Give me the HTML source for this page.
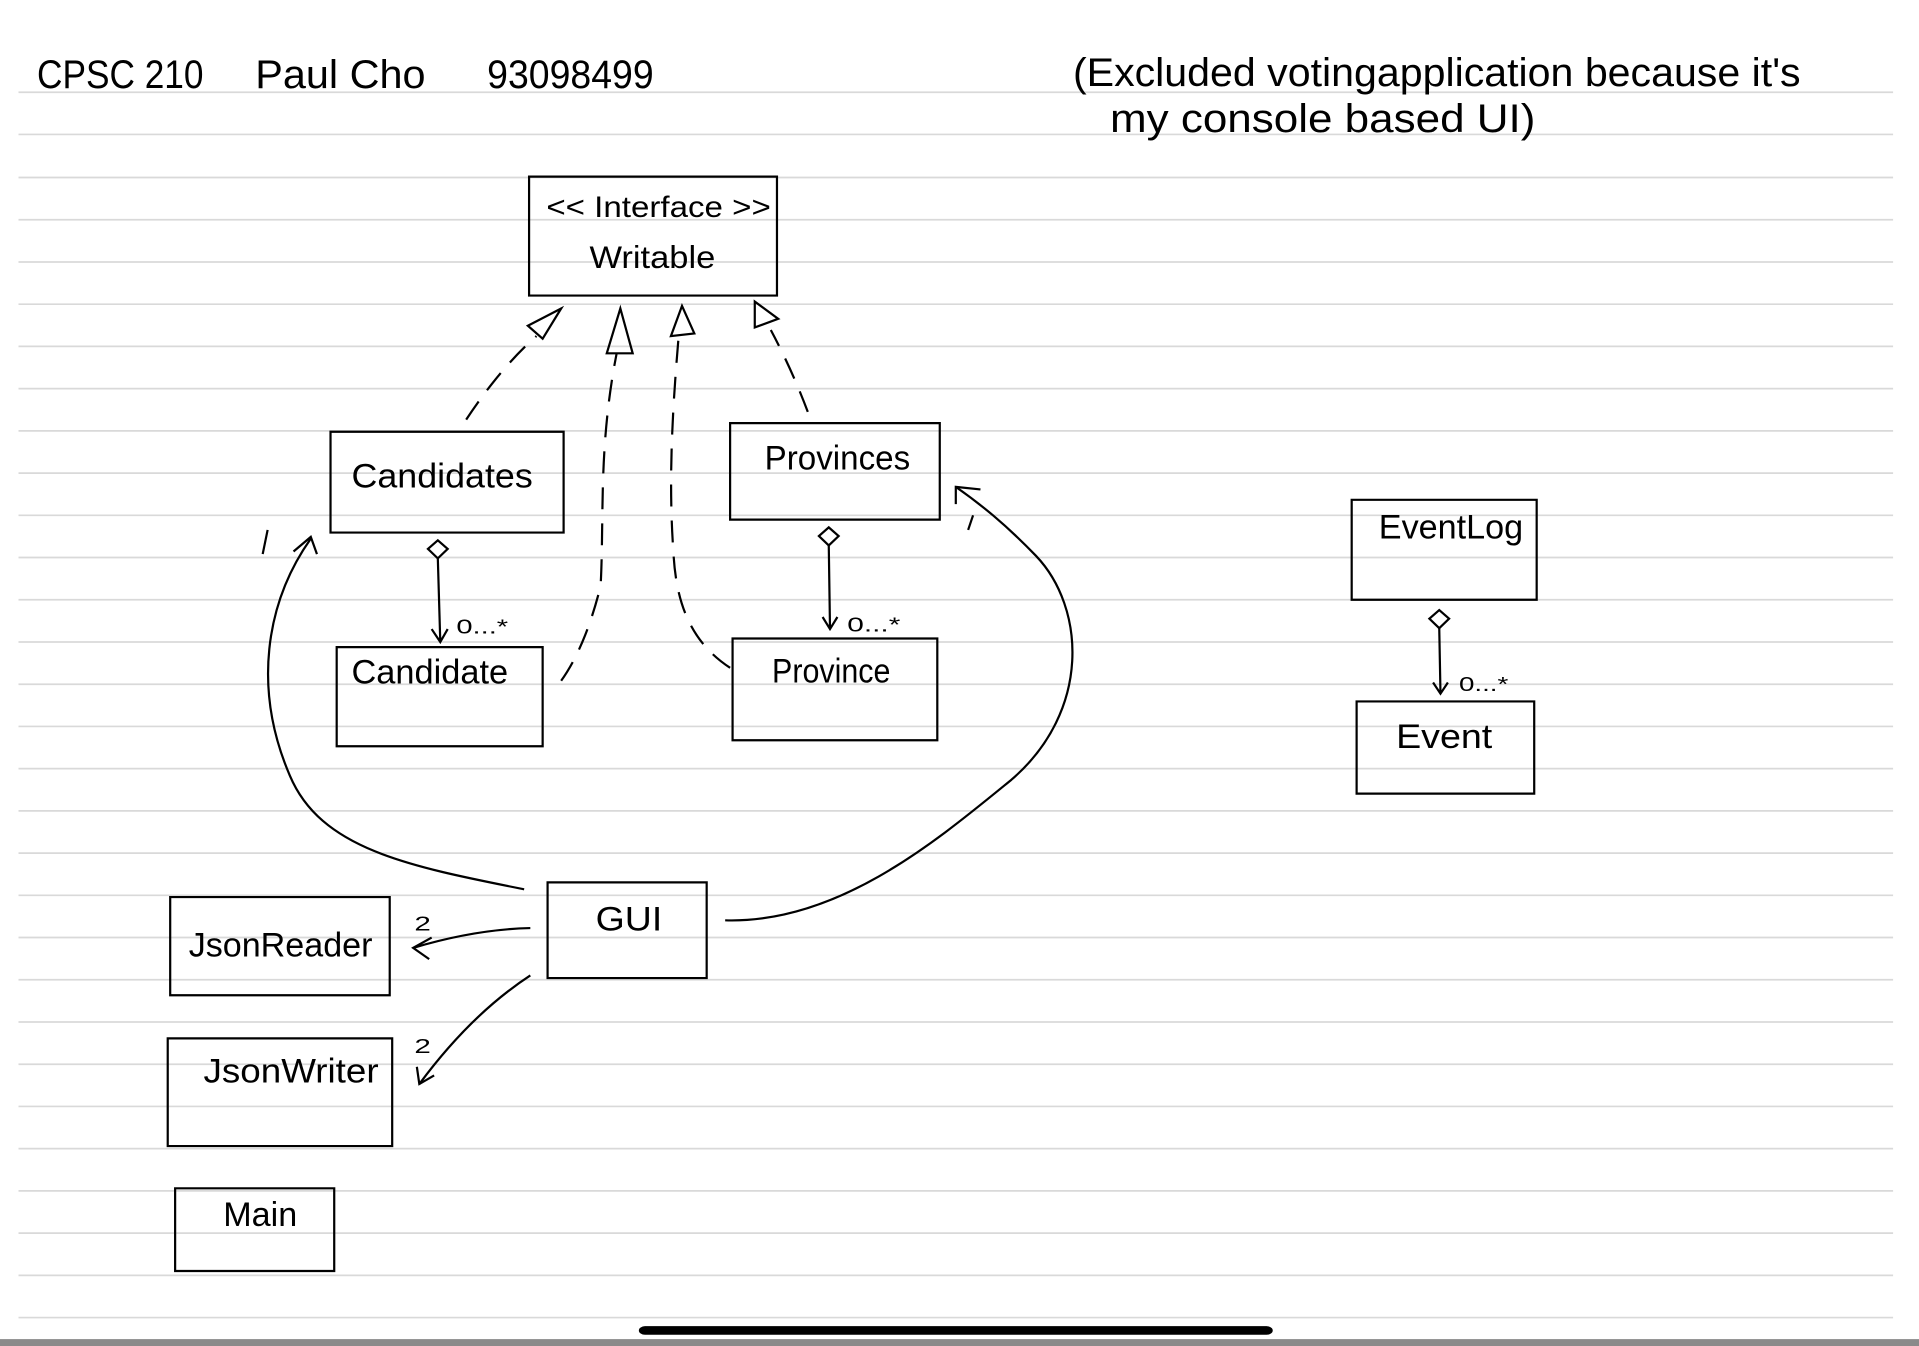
<!DOCTYPE html>
<html><head><meta charset="utf-8"><style>
html,body{margin:0;padding:0;background:#fff;}
svg{display:block;}
text{font-family:"Liberation Sans",sans-serif;fill:#000;}
</style></head><body>
<svg width="1919" height="1346" viewBox="0 0 1556 1562" preserveAspectRatio="none" xmlns="http://www.w3.org/2000/svg">
<rect width="1556" height="1562" fill="#fff"/>
<g stroke="#d9d9d9" stroke-width="2" vector-effect="non-scaling-stroke">
<line x1="15" x2="1535" y1="107" y2="107"/><line x1="15" x2="1535" y1="156" y2="156"/><line x1="15" x2="1535" y1="206" y2="206"/><line x1="15" x2="1535" y1="255" y2="255"/><line x1="15" x2="1535" y1="304" y2="304"/><line x1="15" x2="1535" y1="353" y2="353"/><line x1="15" x2="1535" y1="402" y2="402"/><line x1="15" x2="1535" y1="451" y2="451"/><line x1="15" x2="1535" y1="500" y2="500"/><line x1="15" x2="1535" y1="549" y2="549"/><line x1="15" x2="1535" y1="598" y2="598"/><line x1="15" x2="1535" y1="647" y2="647"/><line x1="15" x2="1535" y1="696" y2="696"/><line x1="15" x2="1535" y1="745" y2="745"/><line x1="15" x2="1535" y1="794" y2="794"/><line x1="15" x2="1535" y1="843" y2="843"/><line x1="15" x2="1535" y1="892" y2="892"/><line x1="15" x2="1535" y1="941" y2="941"/><line x1="15" x2="1535" y1="990" y2="990"/><line x1="15" x2="1535" y1="1039" y2="1039"/><line x1="15" x2="1535" y1="1088" y2="1088"/><line x1="15" x2="1535" y1="1137" y2="1137"/><line x1="15" x2="1535" y1="1186" y2="1186"/><line x1="15" x2="1535" y1="1235" y2="1235"/><line x1="15" x2="1535" y1="1284" y2="1284"/><line x1="15" x2="1535" y1="1333" y2="1333"/><line x1="15" x2="1535" y1="1382" y2="1382"/><line x1="15" x2="1535" y1="1431" y2="1431"/><line x1="15" x2="1535" y1="1480" y2="1480"/><line x1="15" x2="1535" y1="1529" y2="1529"/>
</g>
<rect x="0" y="1554" width="1556" height="8" fill="#8a8a8a"/>
<line x1="523" y1="1544" x2="1027" y2="1544" stroke="#000" stroke-width="10" stroke-linecap="round"/>

<g font-size="46">
<text x="30" y="102" textLength="135" lengthAdjust="spacingAndGlyphs">CPSC 210</text>
<text x="207" y="102" textLength="138" lengthAdjust="spacingAndGlyphs">Paul  Cho</text>
<text x="395" y="102" textLength="135" lengthAdjust="spacingAndGlyphs">93098499</text>
<text x="870" y="100" textLength="590" lengthAdjust="spacingAndGlyphs">(Excluded  votingapplication  because  it's</text>
<text x="900" y="153" textLength="345" lengthAdjust="spacingAndGlyphs">my  console  based  UI)</text>
</g>

<g fill="none" stroke="#000" stroke-width="2.2" vector-effect="non-scaling-stroke">
<rect x="429" y="205" width="201" height="138" vector-effect="non-scaling-stroke"/>
<rect x="268" y="501" width="189" height="117" vector-effect="non-scaling-stroke"/>
<rect x="592" y="491" width="170" height="112" vector-effect="non-scaling-stroke"/>
<rect x="273" y="751" width="167" height="115" vector-effect="non-scaling-stroke"/>
<rect x="594" y="741" width="166" height="118" vector-effect="non-scaling-stroke"/>
<rect x="1096" y="580" width="150" height="116" vector-effect="non-scaling-stroke"/>
<rect x="1100" y="814" width="144" height="107" vector-effect="non-scaling-stroke"/>
<rect x="444" y="1024" width="129" height="111" vector-effect="non-scaling-stroke"/>
<rect x="138" y="1041" width="178" height="114" vector-effect="non-scaling-stroke"/>
<rect x="136" y="1205" width="182" height="125" vector-effect="non-scaling-stroke"/>
<rect x="142" y="1379" width="129" height="96" vector-effect="non-scaling-stroke"/>

<!-- dashed realizations -->
<g stroke-dasharray="22,14">
<path d="M378,487 C395,450 415,415 435,390" vector-effect="non-scaling-stroke"/>
<path d="M455,790 C470,760 480,720 487,680 C490,600 485,520 500,410" vector-effect="non-scaling-stroke"/>
<path d="M592,775 C560,745 548,700 546,640 C542,560 545,480 550,395" vector-effect="non-scaling-stroke"/>
<path d="M655,478 C645,440 635,410 625,383" vector-effect="non-scaling-stroke"/>
</g>
<path d="M455,358 L428,378 L440,393 Z" vector-effect="non-scaling-stroke"/>
<path d="M503,358 L492,410 L513,410 Z" vector-effect="non-scaling-stroke"/>
<path d="M553,355 L544,390 L563,387 Z" vector-effect="non-scaling-stroke"/>
<path d="M612,350 L612,380 L631,370 Z" vector-effect="non-scaling-stroke"/>

<!-- aggregations -->
<path d="M355,627 L363,637 L355,648 L347,637 Z" vector-effect="non-scaling-stroke"/>
<path d="M355,648 L357,745 M350,730 L357,745 L363,730" vector-effect="non-scaling-stroke"/>
<path d="M672,612 L680,622 L672,633 L664,622 Z" vector-effect="non-scaling-stroke"/>
<path d="M672,633 L673,730 M667,716 L673,730 L679,716" vector-effect="non-scaling-stroke"/>
<path d="M1167,708 L1175,718 L1167,729 L1159,718 Z" vector-effect="non-scaling-stroke"/>
<path d="M1167,729 L1168,805 M1162,792 L1168,805 L1174,792" vector-effect="non-scaling-stroke"/>

<!-- GUI associations -->
<path d="M425,1032 C330,1005 260,985 235,900 C205,800 215,700 252,625" vector-effect="non-scaling-stroke"/>
<path d="M238,640 L252,623 L257,643" vector-effect="non-scaling-stroke"/>
<path d="M213,643 L217,615" vector-effect="non-scaling-stroke"/>
<path d="M588,1068 C680,1072 760,975 820,905 C885,825 880,705 840,645 C815,608 795,585 775,565" vector-effect="non-scaling-stroke"/>
<path d="M775,585 L775,565 L795,568" vector-effect="non-scaling-stroke"/>
<path d="M785,615 L789,598" vector-effect="non-scaling-stroke"/>
<path d="M430,1077 C400,1078 370,1085 335,1100" vector-effect="non-scaling-stroke"/>
<path d="M350,1088 L335,1100 L348,1113" vector-effect="non-scaling-stroke"/>
<path d="M430,1132 C400,1160 370,1200 340,1258" vector-effect="non-scaling-stroke"/>
<path d="M338,1238 L340,1258 L352,1248" vector-effect="non-scaling-stroke"/>
</g>

<g font-size="40">
<text x="443" y="252" textLength="182" lengthAdjust="spacingAndGlyphs" font-size="34">&lt;&lt; Interface &gt;&gt;</text>
<text x="478" y="311" textLength="102" lengthAdjust="spacingAndGlyphs" font-size="36">Writable</text>
<text x="285" y="566" textLength="147" lengthAdjust="spacingAndGlyphs">Candidates</text>
<text x="620" y="545" textLength="118" lengthAdjust="spacingAndGlyphs">Provinces</text>
<text x="285" y="793" textLength="127" lengthAdjust="spacingAndGlyphs">Candidate</text>
<text x="626" y="792" textLength="96" lengthAdjust="spacingAndGlyphs">Province</text>
<text x="1118" y="625" textLength="117" lengthAdjust="spacingAndGlyphs">EventLog</text>
<text x="1132" y="868" textLength="78" lengthAdjust="spacingAndGlyphs">Event</text>
<text x="483" y="1080" textLength="54" lengthAdjust="spacingAndGlyphs">GUI</text>
<text x="153" y="1110" textLength="149" lengthAdjust="spacingAndGlyphs">JsonReader</text>
<text x="165" y="1256" textLength="142" lengthAdjust="spacingAndGlyphs">JsonWriter</text>
<text x="181" y="1423" textLength="60" lengthAdjust="spacingAndGlyphs">Main</text>
</g>
<g font-size="24">
<text x="370" y="735" textLength="42" lengthAdjust="spacingAndGlyphs">0...*</text>
<text x="687" y="733" textLength="43" lengthAdjust="spacingAndGlyphs">0...*</text>
<text x="1183" y="802" textLength="40" lengthAdjust="spacingAndGlyphs">0...*</text>
<text x="336" y="1080">2</text>
<text x="336" y="1222">2</text>
</g>
</svg>
</body></html>
